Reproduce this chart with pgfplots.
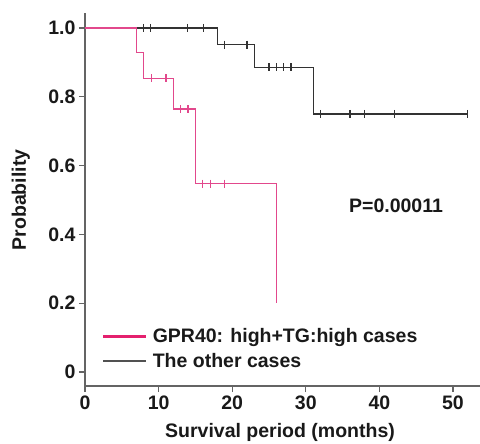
\documentclass[border=0pt]{standalone}
\usepackage{fontspec}
\setmainfont{Liberation Sans}
\usepackage{pgfplots}
\pgfplotsset{compat=1.18}

\definecolor{kmpink}{RGB}{226,72,140}
\definecolor{legpink}{RGB}{228,32,110}
\definecolor{kmblack}{RGB}{50,50,50}
\definecolor{axgray}{RGB}{100,100,100}
\definecolor{txt}{RGB}{25,25,25}
\newcommand\bigbf{\fontsize{19.5bp}{23bp}\selectfont\bfseries}

\begin{document}
\begin{tikzpicture}
\begin{axis}[
  at={(0,0)}, anchor=south west,
  scale only axis, width=395bp, height=373bp,
  xmin=0, xmax=53.67, ymin=-0.0407, ymax=1.0436,
  axis x line=bottom, axis y line=left,
  axis line style={-, draw=axgray, line width=1.3bp},
  tick align=outside, major tick length=6bp,
  tick style={axgray, line width=1.1bp},
  xtick={0,10,...,50},
  ytick={0,0.2,0.4,0.6,0.8,1},
  yticklabels={0,0.2,0.4,0.6,0.8,1.0},
  ticklabel style={font=\bigbf, text=txt},
  /pgf/number format/assume math mode=true,
  xlabel={Survival period (months)},
  ylabel={Probability},
  label style={font=\bigbf, text=txt},
  xlabel style={at={(axis description cs:0.4937,-0.1394)}, anchor=base},
  ylabel style={at={(axis description cs:-0.1494,0.4987)}, anchor=base},
  legend style={at={(axis description cs:0.043,0.1005)}, anchor=west,
    draw=none, fill=none, font=\bigbf, text=txt, inner sep=0pt,
    row sep=5bp, column sep=3bp},
  legend cell align=left,
  legend image code/.code={\draw[#1] (0bp,0bp) -- (43bp,0bp);},
  clip=false,
]
% step curves
\addplot[const plot, kmblack, line width=1.2bp, forget plot] coordinates
  {(0,1) (18,0.9515) (23,0.8858) (31,0.75) (52,0.75)};
\addplot[const plot, kmpink, line width=1.1bp, forget plot] coordinates
  {(0,1) (7,0.9294) (8,0.8538) (12,0.7645) (15,0.5474) (26,0.2015)};
% censored cases
\addplot[only marks, mark=|, mark size=4bp, kmblack, line width=1.2bp, forget plot] coordinates
  {(7.9,1) (8.9,1) (13.95,1) (16.1,1)
   (18.9,0.9515) (22,0.9515)
   (25,0.8858) (26,0.8858) (27,0.8858) (28,0.8858)
   (32,0.75) (36,0.75) (38,0.75) (42,0.75) (52,0.75)};
\addplot[only marks, mark=|, mark size=4bp, kmpink, line width=1.1bp, forget plot] coordinates
  {(9,0.8538) (11,0.8538) (13,0.7645) (14,0.7645)
   (16,0.5474) (17,0.5474) (19,0.5474)};
\addlegendimage{legpink, line width=2.6bp}
\addlegendentry{GPR40: high+TG:high cases}
\addlegendimage{kmblack!85!white, line width=2bp}
\addlegendentry{The other cases}
\node[anchor=base, font=\bigbf, text=txt, inner sep=0pt] at (axis cs:42.26,0.463) {P=0.00011};
\end{axis}
\pgfresetboundingbox
\path[use as bounding box] (-85bp,-58bp) rectangle (395bp,386bp);
\end{tikzpicture}
\end{document}
